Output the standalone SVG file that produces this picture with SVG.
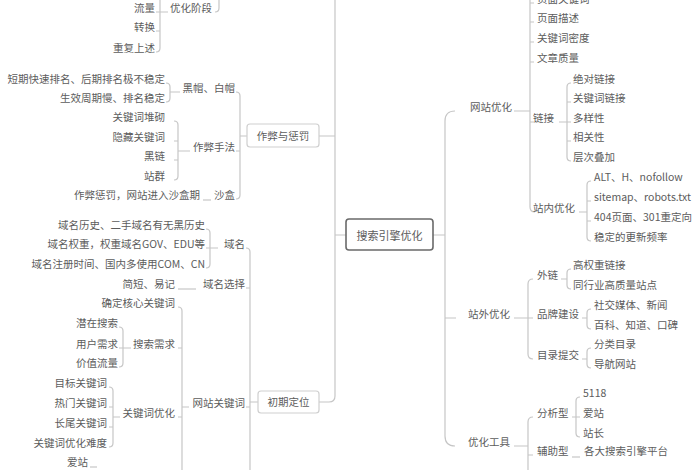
<svg xmlns="http://www.w3.org/2000/svg" width="700" height="470" viewBox="0 0 700 470">
<style>
.t{font-family:"Noto Sans CJK SC","Noto Sans",sans-serif;font-size:10.5px;fill:#5c5c5c}
.e{text-anchor:end}
.m{text-anchor:middle}
.c{stroke:#c6c6c6;stroke-width:1.2;fill:none}
.box{fill:#fff;stroke:#cfcfcf;stroke-width:1.2}
.root{fill:#fff;stroke:#6a6a6a;stroke-width:1.6}
</style>
<rect width="700" height="470" fill="#fff"/>
<g id="connectors" class="c">
<!-- root -->
<path d="M433 235H445M335 235H346"/>
<!-- right main -->
<path d="M455 111Q445 111 445 121V436Q445 446 455 446M445 318H456"/>
<!-- 网站优化 -->
<path d="M514 111H530M530 -10V207Q530 212 535 212M530 3H534M530 22H534M530 42H534M530 62H534M530 122H534"/>
<path d="M559 122H567M571 83Q567 83 567 87V157Q567 161 571 161M567 102H571M567 122H571M567 141H571"/>
<path d="M579 212H587M591 181Q587 181 587 185V237Q587 241 591 241M587 201H591M587 221H591"/>
<!-- 站外优化 -->
<path d="M514 318H528M533 279Q528 279 528 284V354Q528 359 533 359M528 318H533"/>
<path d="M561 279H567M571 269Q567 269 567 273V285Q567 289 571 289"/>
<path d="M582 318H587M591 309Q587 309 587 313V325Q587 329 591 329"/>
<path d="M582 359H587M591 348Q587 348 587 352V364Q587 368 591 368"/>
<!-- 优化工具 -->
<path d="M514 446H528M533 417Q528 417 528 422V480M528 455H533"/>
<path d="M572 417H576M580 397Q576 397 576 401V433Q576 437 580 437M576 417H580"/>
<path d="M572 457H580"/>
<!-- left main -->
<path d="M335 -10V396Q335 402 329 402H319M335 136H319"/>
<!-- 作弊与惩罚 -->
<path d="M247 136H240M236 92Q240 92 240 96V195Q240 199 236 199M240 151H236"/>
<path d="M180 92H170M166 83Q170 83 170 87V98Q170 102 166 102"/>
<path d="M190 151H178M174 121Q178 121 178 125V176Q178 180 174 180M178 141H174M178 160H174"/>
<path d="M203 200H211"/>
<!-- 优化阶段 -->
<path d="M215 12Q219 12 219 8V-10"/>
<path d="M168 12H160M160 -10V48Q160 52 156 52M160 12H156M160 31H156"/>
<!-- 初期定位 -->
<path d="M258 402H250M246 248Q250 248 250 252V480M250 288H246M250 407H246"/>
<path d="M218 248H210M206 229Q210 229 210 233V264Q210 268 206 268M210 248H206"/>
<path d="M178 289H196"/>
<path d="M189 407H182M178 307Q182 307 182 311V480M182 348H178M182 417H178"/>
<path d="M131 348H123M119 327Q123 327 123 331V363Q123 367 119 367M123 348H119"/>
<path d="M120 417H113M109 387Q113 387 113 391V443Q113 447 109 447M113 407H109M113 427H109"/>
<path d="M90 467H97"/>
</g>
<g id="n-root"><rect class="root" x="346" y="219" width="87" height="31" rx="3"/><text class="t m" x="389.5" y="239.5" style="font-size:11px">搜索引擎优化</text></g>
<g id="n-wzyh"><text class="t" x="470" y="111">网站优化</text></g>
<g id="n-zwyh"><text class="t" x="468" y="318">站外优化</text></g>
<g id="n-yhgj"><text class="t" x="468" y="446">优化工具</text></g>
<g id="n-ymgjc"><text class="t" x="537" y="3">页面关键词</text></g>
<g id="n-ymms"><text class="t" x="537" y="22">页面描述</text></g>
<g id="n-gjcmd"><text class="t" x="537" y="42">关键词密度</text></g>
<g id="n-wzzl"><text class="t" x="537" y="62">文章质量</text></g>
<g id="n-lj"><text class="t" x="533" y="122">链接</text></g>
<g id="n-znyh"><text class="t" x="533" y="212">站内优化</text></g>
<g id="n-jdlj"><text class="t" x="573" y="83">绝对链接</text></g>
<g id="n-gjclj"><text class="t" x="573" y="102">关键词链接</text></g>
<g id="n-dyx"><text class="t" x="573" y="122">多样性</text></g>
<g id="n-xgx"><text class="t" x="573" y="141">相关性</text></g>
<g id="n-ccdj"><text class="t" x="573" y="161">层次叠加</text></g>
<g id="n-alt"><text class="t" x="594" y="181">ALT、H、nofollow</text></g>
<g id="n-sitemap"><text class="t" x="594" y="201">sitemap、robots.txt</text></g>
<g id="n-404"><text class="t" x="594" y="221">404页面、301重定向</text></g>
<g id="n-wdgx"><text class="t" x="594" y="241">稳定的更新频率</text></g>
<g id="n-wl"><text class="t" x="537" y="279">外链</text></g>
<g id="n-ppjs"><text class="t" x="537" y="318">品牌建设</text></g>
<g id="n-mltj"><text class="t" x="537" y="359">目录提交</text></g>
<g id="n-gqzlj"><text class="t" x="573" y="269">高权重链接</text></g>
<g id="n-thy"><text class="t" x="573" y="289">同行业高质量站点</text></g>
<g id="n-sjmt"><text class="t" x="594" y="309">社交媒体、新闻</text></g>
<g id="n-bk"><text class="t" x="594" y="329">百科、知道、口碑</text></g>
<g id="n-flml"><text class="t" x="594" y="348">分类目录</text></g>
<g id="n-dhwz"><text class="t" x="594" y="368">导航网站</text></g>
<g id="n-fxx"><text class="t" x="537" y="417">分析型</text></g>
<g id="n-fzx"><text class="t" x="537" y="455">辅助型</text></g>
<g id="n-5118"><text class="t" x="583" y="397">5118</text></g>
<g id="n-az1"><text class="t" x="583" y="417">爱站</text></g>
<g id="n-zz"><text class="t" x="583" y="437">站长</text></g>
<g id="n-gdss"><text class="t" x="584" y="455">各大搜索引擎平台</text></g>
<g id="n-zbycf"><rect class="box" x="247" y="124" width="72" height="23" rx="3"/><text class="t m" x="283" y="140">作弊与惩罚</text></g>
<g id="n-yhjd"><text class="t" x="170" y="12">优化阶段</text></g>
<g id="n-ll"><text class="t e" x="155" y="12">流量</text></g>
<g id="n-zh"><text class="t e" x="155" y="31">转换</text></g>
<g id="n-cfss"><text class="t e" x="155" y="52">重复上述</text></g>
<g id="n-hm"><text class="t e" x="235" y="92">黑帽、白帽</text></g>
<g id="n-dq"><text class="t e" x="165" y="83">短期快速排名、后期排名极不稳定</text></g>
<g id="n-sx"><text class="t e" x="165" y="102">生效周期慢、排名稳定</text></g>
<g id="n-zbsf"><text class="t e" x="235" y="151">作弊手法</text></g>
<g id="n-gjcdq"><text class="t e" x="165" y="121">关键词堆砌</text></g>
<g id="n-ycgjc"><text class="t e" x="165" y="141">隐藏关键词</text></g>
<g id="n-hl"><text class="t e" x="165" y="160">黑链</text></g>
<g id="n-zq"><text class="t e" x="165" y="180">站群</text></g>
<g id="n-sh"><text class="t e" x="235" y="199">沙盒</text></g>
<g id="n-zbcf"><text class="t e" x="200" y="199">作弊惩罚，网站进入沙盒期</text></g>
<g id="n-cqdw"><rect class="box" x="258" y="391" width="61" height="22" rx="3"/><text class="t m" x="288.5" y="406">初期定位</text></g>
<g id="n-ym"><text class="t e" x="245" y="248">域名</text></g>
<g id="n-ymls"><text class="t e" x="205" y="229">域名历史、二手域名有无黑历史</text></g>
<g id="n-ymqz"><text class="t e" x="205" y="248">域名权重，权重域名GOV、EDU等</text></g>
<g id="n-ymzc"><text class="t e" x="205" y="268">域名注册时间、国内多使用COM、CN</text></g>
<g id="n-ymxz"><text class="t e" x="245" y="288">域名选择</text></g>
<g id="n-jd"><text class="t e" x="175" y="288">简短、易记</text></g>
<g id="n-wzgjc"><text class="t e" x="245" y="407">网站关键词</text></g>
<g id="n-qdhx"><text class="t e" x="175" y="307">确定核心关键词</text></g>
<g id="n-ssxq"><text class="t e" x="175" y="348">搜索需求</text></g>
<g id="n-qzss"><text class="t e" x="118" y="327">潜在搜索</text></g>
<g id="n-yhxq"><text class="t e" x="118" y="348">用户需求</text></g>
<g id="n-jzll"><text class="t e" x="118" y="367">价值流量</text></g>
<g id="n-gjcyh"><text class="t e" x="175" y="417">关键词优化</text></g>
<g id="n-mbgjc"><text class="t e" x="107" y="387">目标关键词</text></g>
<g id="n-rmgjc"><text class="t e" x="107" y="407">热门关键词</text></g>
<g id="n-cwgjc"><text class="t e" x="107" y="427">长尾关键词</text></g>
<g id="n-nd"><text class="t e" x="107" y="447">关键词优化难度</text></g>
<g id="n-az2"><text class="t e" x="88" y="466">爱站</text></g>
</svg>
